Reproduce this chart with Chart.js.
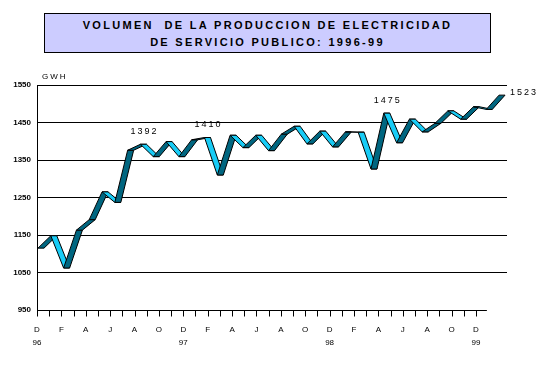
<!DOCTYPE html>
<html>
<head>
<meta charset="utf-8">
<script src="https://cdn.jsdelivr.net/npm/chart.js@4.4.1/dist/chart.umd.min.js"></script>
<style>
    html, body { margin: 0; padding: 0; background: #fff; }
    #wrap { position: relative; width: 547px; height: 388px; }
    #chart { position: absolute; left: 0; top: 0; }
    #title {
        position: absolute; left: 44px; top: 13px; width: 447px; height: 40px;
        box-sizing: border-box; border: 1px solid #000; background: #ccccff;
        font: bold 11px "Liberation Sans", Arial, sans-serif; letter-spacing: 2.3px;
        line-height: 17px; padding-top: 3px; text-align: center; color: #000;
    }
    #unit {
        position: absolute; left: 42px; top: 72px;
        font: 8px "Liberation Sans", Arial, sans-serif; letter-spacing: 2px; color: #000;
    }
</style>
</head>
<body>
<div id="wrap">
    <canvas id="chart" width="547" height="388"></canvas>
    <div id="title">VOLUMEN&nbsp; DE LA PRODUCCION DE ELECTRICIDAD<br>DE SERVICIO PUBLICO: 1996-99</div>
    <div id="unit">GWH</div>
</div>
<script>
// monthly data, Dec 1996 .. Dec 1999
const months = ['D','E','F','M','A','M','J','J','A','S','O','N',
                'D','E','F','M','A','M','J','J','A','S','O','N',
                'D','E','F','M','A','M','J','J','A','S','O','N','D'];
const years = ['96', '97', '98', '99'];
const values = [1115, 1148, 1062, 1163, 1191, 1265, 1237, 1376, 1392, 1359, 1399, 1359,
                1404, 1410, 1310, 1416, 1383, 1416, 1375, 1419, 1440, 1393, 1427, 1385,
                1425, 1424, 1326, 1475, 1396, 1459, 1425, 1448, 1481, 1459, 1492, 1485, 1523];
const labelled = [8, 13, 27, 36];
const yTicks = [950, 1050, 1150, 1250, 1350, 1450, 1550];

const dark = '#006680';
const light = '#18ccf6';

// 3D-looking ribbon built from the points the line scale computed
const ribbon = {
    id: 'ribbon',
    afterDatasetsDraw(chart) {
        const pts = chart.getDatasetMeta(0).data;
        const ctx = chart.ctx;
        const depth = 6;
        ctx.save();
        ctx.lineWidth = 1;
        ctx.strokeStyle = '#000';
        for (let i = 0; i < pts.length - 1; i++) {
            const a = pts[i], b = pts[i + 1];
            ctx.beginPath();
            ctx.moveTo(a.x, a.y);
            ctx.lineTo(b.x, b.y);
            ctx.lineTo(b.x + depth, b.y);
            ctx.lineTo(a.x + depth, a.y);
            ctx.closePath();
            ctx.fillStyle = b.y < a.y ? dark : light;
            ctx.fill();
            ctx.stroke();
        }
        // value labels
        ctx.fillStyle = '#000';
        ctx.font = '9px "Liberation Sans", Arial, sans-serif';
        if ('letterSpacing' in ctx) ctx.letterSpacing = '2px';
        ctx.textBaseline = 'middle';
        labelled.forEach(i => {
            const p = pts[i];
            if (i === pts.length - 1) {
                ctx.textAlign = 'left';
                ctx.fillText(String(values[i]), p.x + 11, p.y - 3);
            } else {
                ctx.textAlign = 'center';
                ctx.fillText(String(values[i]), p.x + 4, p.y - 13);
            }
        });
        ctx.restore();
    },
    // floor line and month tick marks of the front axis
    afterDraw(chart) {
        const ctx = chart.ctx;
        const xs = chart.scales.x;
        const y0 = Math.round(chart.scales.y.getPixelForValue(yTicks[0])) + 0.5;
        ctx.save();
        ctx.strokeStyle = '#000';
        ctx.lineWidth = 1;
        ctx.beginPath();
        ctx.moveTo(chart.chartArea.left, y0);
        ctx.lineTo(xs.getPixelForValue(months.length - 0.1), y0);
        months.forEach((m, i) => {
            const px = Math.round(xs.getPixelForValue(i)) + 0.5;
            ctx.moveTo(px, y0);
            ctx.lineTo(px, y0 + 6);
        });
        ctx.stroke();
        ctx.restore();
    }
};

new Chart(document.getElementById('chart'), {
    type: 'line',
    data: {
        datasets: [{
            data: values.map((v, i) => ({ x: i, y: v })),
            xAxisID: 'xd',
            showLine: false,
            pointRadius: 0
        }]
    },
    options: {
        responsive: false,
        animation: false,
        layout: { padding: { left: 0, top: 85, right: 40, bottom: 28 } },
        plugins: { legend: { display: false }, tooltip: { enabled: false } },
        scales: {
            xd: {
                type: 'linear',
                display: false,
                min: -0.078,
                max: 36.62
            },
            x: {
                type: 'linear',
                position: 'bottom',
                min: 0,
                max: 38.55,
                afterBuildTicks: (scale) => {
                    scale.ticks = months.map((m, i) => ({ value: i }));
                },
                afterFit: (scale) => { scale.height = 50; },
                grid: { display: false, drawTicks: true, tickLength: 5 },
                border: { display: false },
                ticks: {
                    autoSkip: false,
                    maxRotation: 0,
                    padding: 8.5,
                    color: '#000',
                    font: { family: '"Liberation Sans", Arial, sans-serif', size: 8, lineHeight: 1.625 },
                    callback: (value) => {
                        const i = Math.round(value);
                        if (i % 2 !== 0) return '';
                        return i % 12 === 0 ? [months[i], years[i / 12]] : months[i];
                    }
                }
            },
            y: {
                min: yTicks[0],
                max: yTicks[yTicks.length - 1],
                afterBuildTicks: (scale) => {
                    scale.ticks = yTicks.map(v => ({ value: v }));
                },
                afterFit: (scale) => { scale.width = 37; },
                grid: {
                    color: (c) => c.tick && c.tick.value === yTicks[0] ? 'rgba(0,0,0,0)' : '#000',
                    lineWidth: 1, drawTicks: false, tickLength: 0
                },
                border: { display: true, color: '#000' },
                ticks: {
                    padding: 6,
                    color: '#000',
                    font: { family: '"Liberation Sans", Arial, sans-serif', size: 8, weight: 'bold' },
                    callback: (value) => String(value)
                }
            }
        }
    },
    plugins: [ribbon]
});
</script>
</body>
</html>
